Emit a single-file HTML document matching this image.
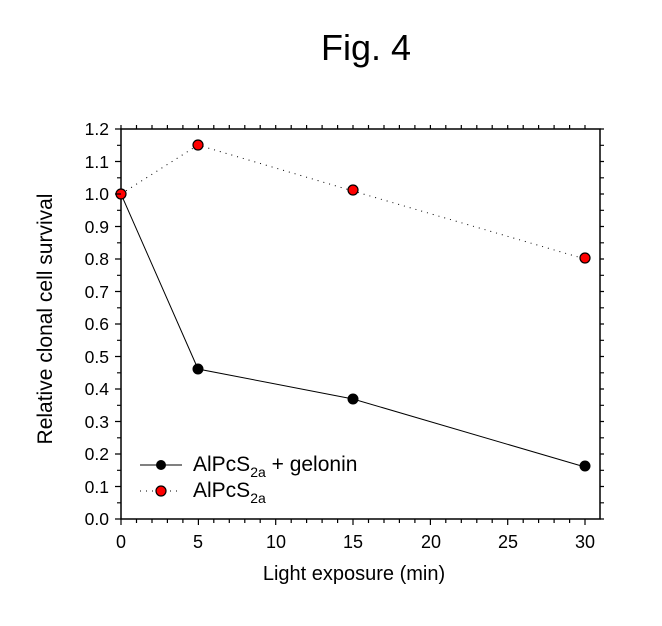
<!DOCTYPE html>
<html><head><style>body{margin:0;background:#fff}</style></head><body>
<svg width="662" height="621" xmlns="http://www.w3.org/2000/svg" font-family="Liberation Sans, Arial, sans-serif">
<rect width="662" height="621" fill="#fff"/>
<text x="366" y="60" font-size="36" text-anchor="middle">Fig. 4</text>
<rect x="121" y="129" width="479" height="390" stroke="#000" stroke-width="1.5" fill="none"/>
<g font-size="17.5" text-anchor="end">
<text x="109" y="525">0.0</text><text x="109" y="493">0.1</text><text x="109" y="460">0.2</text><text x="109" y="428">0.3</text><text x="109" y="395">0.4</text><text x="109" y="363">0.5</text><text x="109" y="330">0.6</text><text x="109" y="298">0.7</text><text x="109" y="265">0.8</text><text x="109" y="233">0.9</text><text x="109" y="200">1.0</text><text x="109" y="168">1.1</text><text x="109" y="135">1.2</text>
</g>
<g font-size="18" text-anchor="middle">
<text x="121" y="548">0</text><text x="198" y="548">5</text><text x="276" y="548">10</text><text x="353" y="548">15</text><text x="431" y="548">20</text><text x="508" y="548">25</text><text x="585" y="548">30</text>
</g>
<text x="354" y="580" font-size="20" text-anchor="middle">Light exposure (min)</text>
<text transform="translate(52,319) rotate(-90)" font-size="21" text-anchor="middle">Relative clonal cell survival</text>
<polyline points="121,194 198,369 353,399 585,467" fill="none" stroke="#000" stroke-width="1"/>
<polyline points="121,194 198,145 353,191 585,259" fill="none" stroke="#000" stroke-width="1" stroke-dasharray="1,5"/>
<g fill="#000" stroke="#000"><circle cx="198" cy="369" r="5"/><circle cx="353" cy="399" r="5"/><circle cx="585" cy="466" r="5"/></g>
<g fill="#f00" stroke="#000" stroke-width="1.2"><circle cx="121" cy="194" r="5"/><circle cx="198" cy="145" r="5"/><circle cx="353" cy="190" r="5"/><circle cx="585" cy="258" r="5"/></g>
<line x1="140" y1="465" x2="182" y2="465" stroke="#000"/>
<circle cx="161" cy="465" r="5" fill="#000"/>
<line x1="140" y1="491" x2="182" y2="491" stroke="#000" stroke-dasharray="1,5"/>
<circle cx="161" cy="491" r="5" fill="#f00" stroke="#000" stroke-width="1.2"/>
<text x="193" y="471" font-size="21">AlPcS<tspan font-size="14" dy="6">2a</tspan><tspan dy="-6"> + gelonin</tspan></text>
<text x="193" y="497" font-size="21">AlPcS<tspan font-size="14" dy="6">2a</tspan></text>
<path stroke="#000" stroke-width="1.2" fill="none" d="
M121,519v6 M136.5,519v4 M152,519v4 M167.4,519v4 M182.9,519v4 M198.4,519v6 M213.8,519v4 M229.3,519v4 M244.8,519v4 M260.2,519v4 M275.7,519v6 M291.2,519v4 M306.6,519v4 M322.1,519v4 M337.6,519v4 M353,519v6 M368.5,519v4 M384,519v4 M399.4,519v4 M414.9,519v4 M430.4,519v6 M445.8,519v4 M461.3,519v4 M476.8,519v4 M492.2,519v4 M507.7,519v6 M523.2,519v4 M538.6,519v4 M554.1,519v4 M569.6,519v4 M585,519v6
M121,129v-4 M136.5,129v-4 M152,129v-4 M167.4,129v-4 M182.9,129v-4 M198.4,129v-4 M213.8,129v-4 M229.3,129v-4 M244.8,129v-4 M260.2,129v-4 M275.7,129v-4 M291.2,129v-4 M306.6,129v-4 M322.1,129v-4 M337.6,129v-4 M353,129v-4 M368.5,129v-4 M384,129v-4 M399.4,129v-4 M414.9,129v-4 M430.4,129v-4 M445.8,129v-4 M461.3,129v-4 M476.8,129v-4 M492.2,129v-4 M507.7,129v-4 M523.2,129v-4 M538.6,129v-4 M554.1,129v-4 M569.6,129v-4 M585,129v-4
M121,519h-6 M121,502.8h-4 M121,486.5h-6 M121,470.3h-4 M121,454h-6 M121,437.8h-4 M121,421.5h-6 M121,405.3h-4 M121,389h-6 M121,372.8h-4 M121,356.5h-6 M121,340.3h-4 M121,324h-6 M121,307.8h-4 M121,291.5h-6 M121,275.3h-4 M121,259h-6 M121,242.8h-4 M121,226.5h-6 M121,210.3h-4 M121,194h-6 M121,177.8h-4 M121,161.5h-6 M121,145.3h-4 M121,129h-6
M600,519h4 M600,502.8h4 M600,486.5h4 M600,470.3h4 M600,454h4 M600,437.8h4 M600,421.5h4 M600,405.3h4 M600,389h4 M600,372.8h4 M600,356.5h4 M600,340.3h4 M600,324h4 M600,307.8h4 M600,291.5h4 M600,275.3h4 M600,259h4 M600,242.8h4 M600,226.5h4 M600,210.3h4 M600,194h4 M600,177.8h4 M600,161.5h4 M600,145.3h4 M600,129h4"/>
</svg>
</body></html>
